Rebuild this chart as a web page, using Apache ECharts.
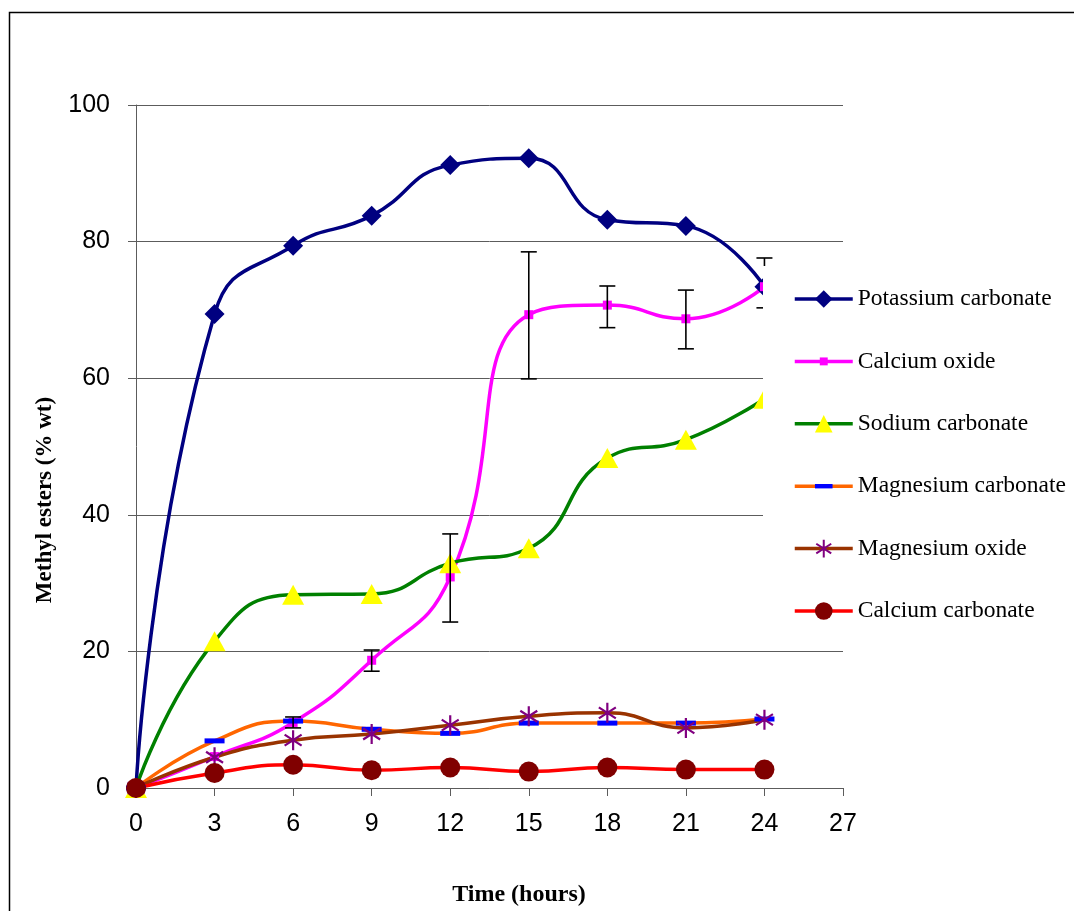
<!DOCTYPE html>
<html><head><meta charset="utf-8">
<script src="https://cdn.jsdelivr.net/npm/echarts@6/dist/echarts.min.js"></script>
<style>html,body{margin:0;padding:0;background:#fff}#c{width:1074px;height:911px}</style>
</head><body><div id="c"></div>
<script>
const hours = [0, 3, 6, 9, 12, 15, 18, 21, 24];
const potassiumCarbonate = [0, 69.4, 79.4, 83.8, 91.2, 92.2, 83.2, 82.3, 73.4];
const calciumOxide = [0, 4.6, 9.6, 18.7, 30.9, 69.3, 70.7, 68.7, 73.4];
const calciumOxideLow = [null, null, 8.8, 17.1, 24.3, 59.9, 67.4, 64.3, 70.3];
const calciumOxideHigh = [null, null, 10.4, 20.2, 37.2, 78.5, 73.5, 72.9, 77.6];
const sodiumCarbonate = [0, 21.5, 28.3, 28.4, 32.9, 35.1, 48.3, 51.0, 57.0];
const magnesiumCarbonate = [0, 6.9, 9.8, 8.6, 8.0, 9.5, 9.5, 9.5, 10.1];
const magnesiumOxide = [0, 4.5, 7.0, 7.9, 9.2, 10.5, 11.0, 8.8, 10.0];
const calciumCarbonate = [0, 2.2, 3.4, 2.6, 3.0, 2.4, 3.0, 2.7, 2.7];
const seriesNames = ['Potassium carbonate', 'Calcium oxide', 'Sodium carbonate',
  'Magnesium carbonate', 'Magnesium oxide', 'Calcium carbonate'];
const xAxisTitle = 'Time (hours)';
const yAxisTitle = 'Methyl esters (% wt)';

const pairs = arr => hours.map((h, i) => [h, arr[i]]);
const squarePath = 'path://M0,0 M5.5,5.5 L14.5,5.5 L14.5,14.5 L5.5,14.5 Z M20,20';
const dashPath = 'path://M0,0 M0,7.5 L20,7.5 L20,12.5 L0,12.5 Z M20,20';
const starPath = 'path://M0,0 M10,0 L10,20 M1.5,4.5 L18.5,15.5 M18.5,4.5 L1.5,15.5 M20,20';

function lineSeries(name, data, color, symbol, size, itemStyle) {
  return {
    type: 'line', name, data: pairs(data), smooth: 0.5,
    symbol, symbolSize: size, showSymbol: true,
    lineStyle: { color, width: 3.5 },
    itemStyle: itemStyle,
    emphasis: { disabled: true },
    z: 2
  };
}

const errData = hours.map((h, i) => [h, calciumOxideLow[i], calciumOxideHigh[i]])
  .filter(d => d[1] !== null);

const chart = echarts.init(document.getElementById('c'));
const gridColor = '#5c5c5c';
chart.setOption({
  animation: false,
  backgroundColor: '#fff',
  grid: { left: 136, right: 231, top: 105, bottom: 123, containLabel: false },
  xAxis: {
    type: 'value', min: 0, max: 27, interval: 3,
    axisLine: { show: true, onZero: false, lineStyle: { color: gridColor, width: 1 } },
    axisTick: { show: true, length: 8, lineStyle: { color: gridColor } },
    axisLabel: { margin: 24, color: '#000', fontFamily: 'Liberation Sans', fontSize: 25 },
    splitLine: { show: false }
  },
  yAxis: {
    type: 'value', min: 0, max: 100, interval: 20,
    axisLine: { show: true, lineStyle: { color: gridColor, width: 1 } },
    axisTick: { show: true, length: 8, lineStyle: { color: gridColor } },
    axisLabel: { margin: 26, color: '#000', fontFamily: 'Liberation Sans', fontSize: 25 },
    splitLine: { show: true, lineStyle: { color: gridColor, width: 1 } }
  },
  legend: {
    data: seriesNames,
    orient: 'vertical', left: 763, top: 266,
    padding: [21, 20, 20, 30],
    backgroundColor: '#fff',
    itemWidth: 58, itemHeight: 22, itemGap: 38.4,
    selectedMode: false,
    lineStyle: { width: 3.5 },
    textStyle: { fontFamily: 'Liberation Serif', fontSize: 23.5, color: '#000', lineHeight: 23 }
  },
  graphic: [
    { type: 'rect', shape: { x: 9.5, y: 12.5, width: 1200, height: 1000 },
      style: { fill: 'none', stroke: '#000', lineWidth: 1.5 }, z: 10 },
    { type: 'text', x: 519, y: 895, z: 10,
      style: { text: xAxisTitle, font: 'bold 24px "Liberation Serif"', fill: '#000', align: 'center', verticalAlign: 'middle' } },
    { type: 'text', x: 45, y: 500, rotation: Math.PI / 2, z: 10,
      style: { text: yAxisTitle, font: 'bold 23px "Liberation Serif"', fill: '#000', align: 'center', verticalAlign: 'middle' } }
  ],
  series: [
    lineSeries(seriesNames[0], potassiumCarbonate, '#000080', 'diamond', 20, { color: '#000080' }),
    lineSeries(seriesNames[1], calciumOxide, '#ff00ff', squarePath, 20, { color: '#ff00ff' }),
    {
      type: 'custom', name: 'err', data: errData, z: 3,
      encode: { x: 0, y: [1, 2] },
      renderItem: function (params, api) {
        const x = api.value(0), lo = api.value(1), hi = api.value(2);
        const p1 = api.coord([x, hi]), p2 = api.coord([x, lo]);
        const w = 8;
        const st = { stroke: '#000', lineWidth: 1.6 };
        return { type: 'group', children: [
          { type: 'line', shape: { x1: p1[0], y1: p1[1], x2: p2[0], y2: p2[1] }, style: st },
          { type: 'line', shape: { x1: p1[0] - w, y1: p1[1], x2: p1[0] + w, y2: p1[1] }, style: st },
          { type: 'line', shape: { x1: p2[0] - w, y1: p2[1], x2: p2[0] + w, y2: p2[1] }, style: st }
        ] };
      }
    },
    lineSeries(seriesNames[2], sodiumCarbonate, '#008000', 'triangle', [22, 20], { color: '#ffff00' }),
    lineSeries(seriesNames[3], magnesiumCarbonate, '#ff6600', dashPath, 20, { color: '#0000ff' }),
    lineSeries(seriesNames[4], magnesiumOxide, '#993300', starPath, 20,
      { color: 'rgba(0,0,0,0)', borderColor: '#800080', borderWidth: 2.2 }),
    lineSeries(seriesNames[5], calciumCarbonate, '#ff0000', 'circle', 20, { color: '#800000' })
  ]
});
</script></body></html>
